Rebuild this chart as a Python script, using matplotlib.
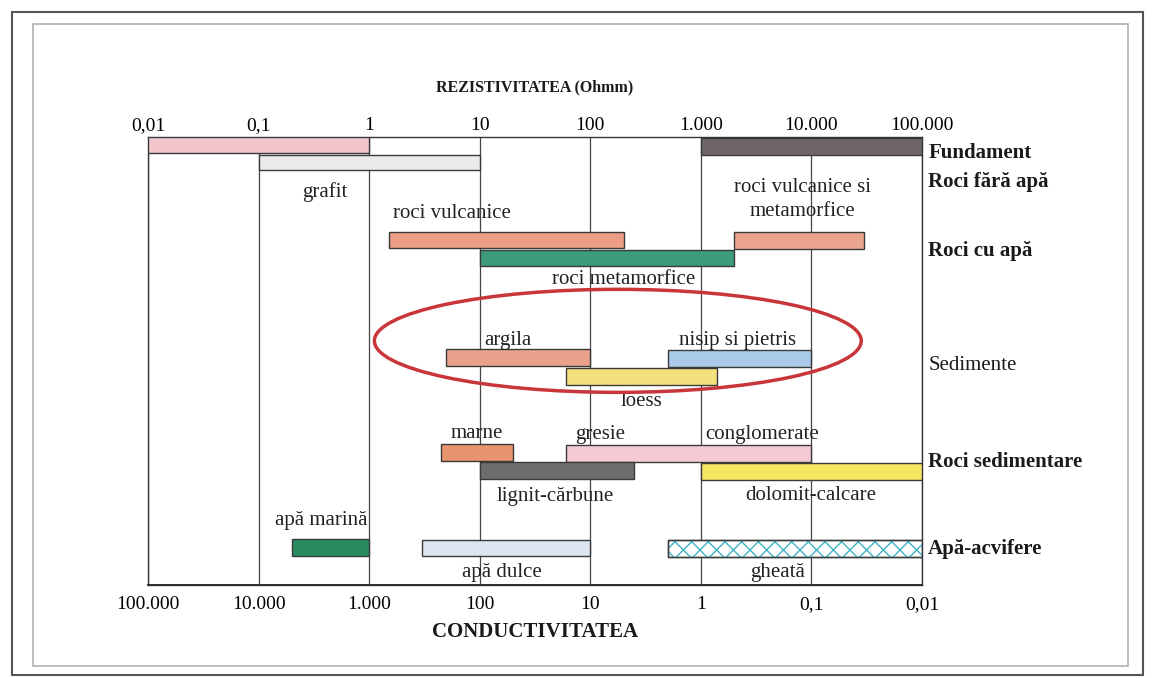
import matplotlib.pyplot as plt
import matplotlib.ticker as ticker
from matplotlib.patches import Ellipse, Rectangle

# resistivity ranges (Ohmm)
materials = ['minerale', 'fundament', 'grafit',
             'roci vulcanice', 'roci vulcanice si metamorfice', 'roci metamorfice',
             'argila', 'nisip si pietris', 'loess',
             'marne', 'gresie-conglomerate', 'lignit-carbune', 'dolomit-calcare',
             'apa marina', 'apa dulce', 'gheata']
rho_low = [0.01, 1000, 0.1,
           1.5, 2000, 10,
           5, 500, 60,
           4.5, 60, 10, 1000,
           0.2, 3, 500]
rho_high = [1, 100000, 10,
            200, 30000, 2000,
            100, 10000, 1400,
            20, 10000, 250, 100000,
            1, 100, 100000]

# row names on the right
groups = ['Fundament', 'Roci fără apă', 'Roci cu apă', 'Sedimente', 'Roci sedimentare', 'Apă-acvifere']

# tick labels (romanian number format)
top_ticks = [0.01, 0.1, 1, 10, 100, 1000, 10000, 100000]
top_labels = ['0,01', '0,1', '1', '10', '100', '1.000', '10.000', '100.000']
bottom_labels = ['100.000', '10.000', '1.000', '100', '10', '1', '0,1', '0,01']

# vertical layout of the bars (top, height) in axis units, 0 = top edge
bar_top = [0, 1, 18,
           95, 95, 113,
           212, 213, 231,
           307, 308, 325, 326,
           402, 403, 403]
bar_height = [16, 17, 15,
              16, 17, 16,
              17, 17, 17,
              17, 17, 17, 17,
              17, 16, 17]
bar_colors = ['#f3c5cc', '#6f6668', '#ebebeb',
              '#eb9d85', '#eba58e', '#3c9b7b',
              '#eba28d', '#aacbea', '#f4e07c',
              '#e8946f', '#f6cad3', '#6d6d6d', '#f7e564',
              '#2b8b60', '#dde5f0', 'white']

# text labels next to the bars: (text, x in Ohmm, y in axis units)
bar_texts = [('grafit', 0.4, 55),
             ('roci vulcanice', 5.6, 77),
             ('roci vulcanice si', 8300, 50),
             ('metamorfice', 8300, 74),
             ('roci metamorfice', 200, 143),
             ('argila', 18, 203),
             ('nisip si pietris', 2150, 203),
             ('loess', 290, 264),
             ('marne', 9.4, 297),
             ('gresie', 123, 297),
             ('conglomerate', 3600, 297),
             ('lignit-cărbune', 48, 359),
             ('dolomit-calcare', 9800, 359),
             ('apă marină', 0.37, 384),
             ('apă dulce', 16, 435),
             ('gheată', 4900, 435)]
group_y = [16, 45, 114, 228, 325, 412]

plt.rcParams['font.family'] = ['Liberation Serif', 'DejaVu Serif']

fig = plt.figure(figsize=(11.54, 6.78), dpi=100)
ax = fig.add_axes([148 / 1154, 1 - 585 / 678, 774 / 1154, 448 / 678])

ax.set_xscale('log')
ax.set_xlim(0.01, 100000)
ax.set_ylim(448, 0)

# decade lines
for t in top_ticks:
    ax.axvline(t, color='#444444', lw=0.9, zorder=1)

# bars
edge = '#3a3a3a'
for i in range(len(materials)):
    ax.barh(bar_top[i], rho_high[i] - rho_low[i], left=rho_low[i], height=bar_height[i],
            align='edge', color=bar_colors[i], edgecolor=edge, lw=1.0, zorder=3)
    if materials[i] == 'gheata':
        # cross hatch for ice
        ax.barh(bar_top[i], rho_high[i] - rho_low[i], left=rho_low[i], height=bar_height[i],
                align='edge', color='none', edgecolor='#3fb3c4', hatch='xx', lw=0, zorder=4)
        ax.barh(bar_top[i], rho_high[i] - rho_low[i], left=rho_low[i], height=bar_height[i],
                align='edge', color='none', edgecolor=edge, lw=1.0, zorder=5)

for txt, x, y in bar_texts:
    ax.text(x, y, txt, ha='center', va='center', fontsize=15, color='#222222', zorder=6)

for name, y in zip(groups, group_y):
    weight = 'normal' if name == 'Sedimente' else 'bold'
    ax.text(1.008, y, name, transform=ax.get_yaxis_transform(), ha='left', va='center',
            fontsize=15, fontweight=weight, color='#1a1a1a')

# red ellipse around the sediments
ax.add_patch(Ellipse((0.607, 0.545), 0.629, 0.23, transform=ax.transAxes,
                     fill=False, edgecolor='#c8363a', lw=2.5, zorder=7))

# top axis: resistivity
ax.xaxis.tick_top()
ax.xaxis.set_major_locator(ticker.FixedLocator(top_ticks))
ax.xaxis.set_major_formatter(ticker.FixedFormatter(top_labels))
ax.xaxis.set_minor_locator(ticker.NullLocator())
ax.tick_params(axis='x', length=0, pad=2, labelsize=14)
ax.set_yticks([])

# bottom axis: conductivity (mS/m)
sec = ax.secondary_xaxis('bottom', functions=(lambda x: 1000 / x, lambda x: 1000 / x))
sec.xaxis.set_major_locator(ticker.FixedLocator([100000, 10000, 1000, 100, 10, 1, 0.1, 0.01]))
sec.xaxis.set_major_formatter(ticker.FixedFormatter(bottom_labels))
sec.xaxis.set_minor_locator(ticker.NullLocator())
sec.tick_params(axis='x', length=0, pad=8, labelsize=14)
sec.spines['bottom'].set_linewidth(1.2)

for s in ax.spines.values():
    s.set_color('#333333')
    s.set_linewidth(1.0)

fig.text(535 / 1154, 1 - 87 / 678, 'REZISTIVITATEA (Ohmm)', ha='center', va='center',
         fontsize=11.5, fontweight='bold', color='#1a1a1a')
fig.text(535 / 1154, 1 - 632 / 678, 'CONDUCTIVITATEA', ha='center', va='center',
         fontsize=15, fontweight='bold', color='#1a1a1a')

# page frame of the scan
fig.add_artist(Rectangle((33 / 1154, 1 - 666 / 678), 1095 / 1154, 642 / 678,
                         transform=fig.transFigure, fill=False, edgecolor='#b0b0b0', lw=1.2))
fig.add_artist(Rectangle((12 / 1154, 1 - 675 / 678), 1131 / 1154, 663 / 678,
                         transform=fig.transFigure, fill=False, edgecolor='#555555', lw=1.5))

fig.savefig('out.png', dpi=100)
